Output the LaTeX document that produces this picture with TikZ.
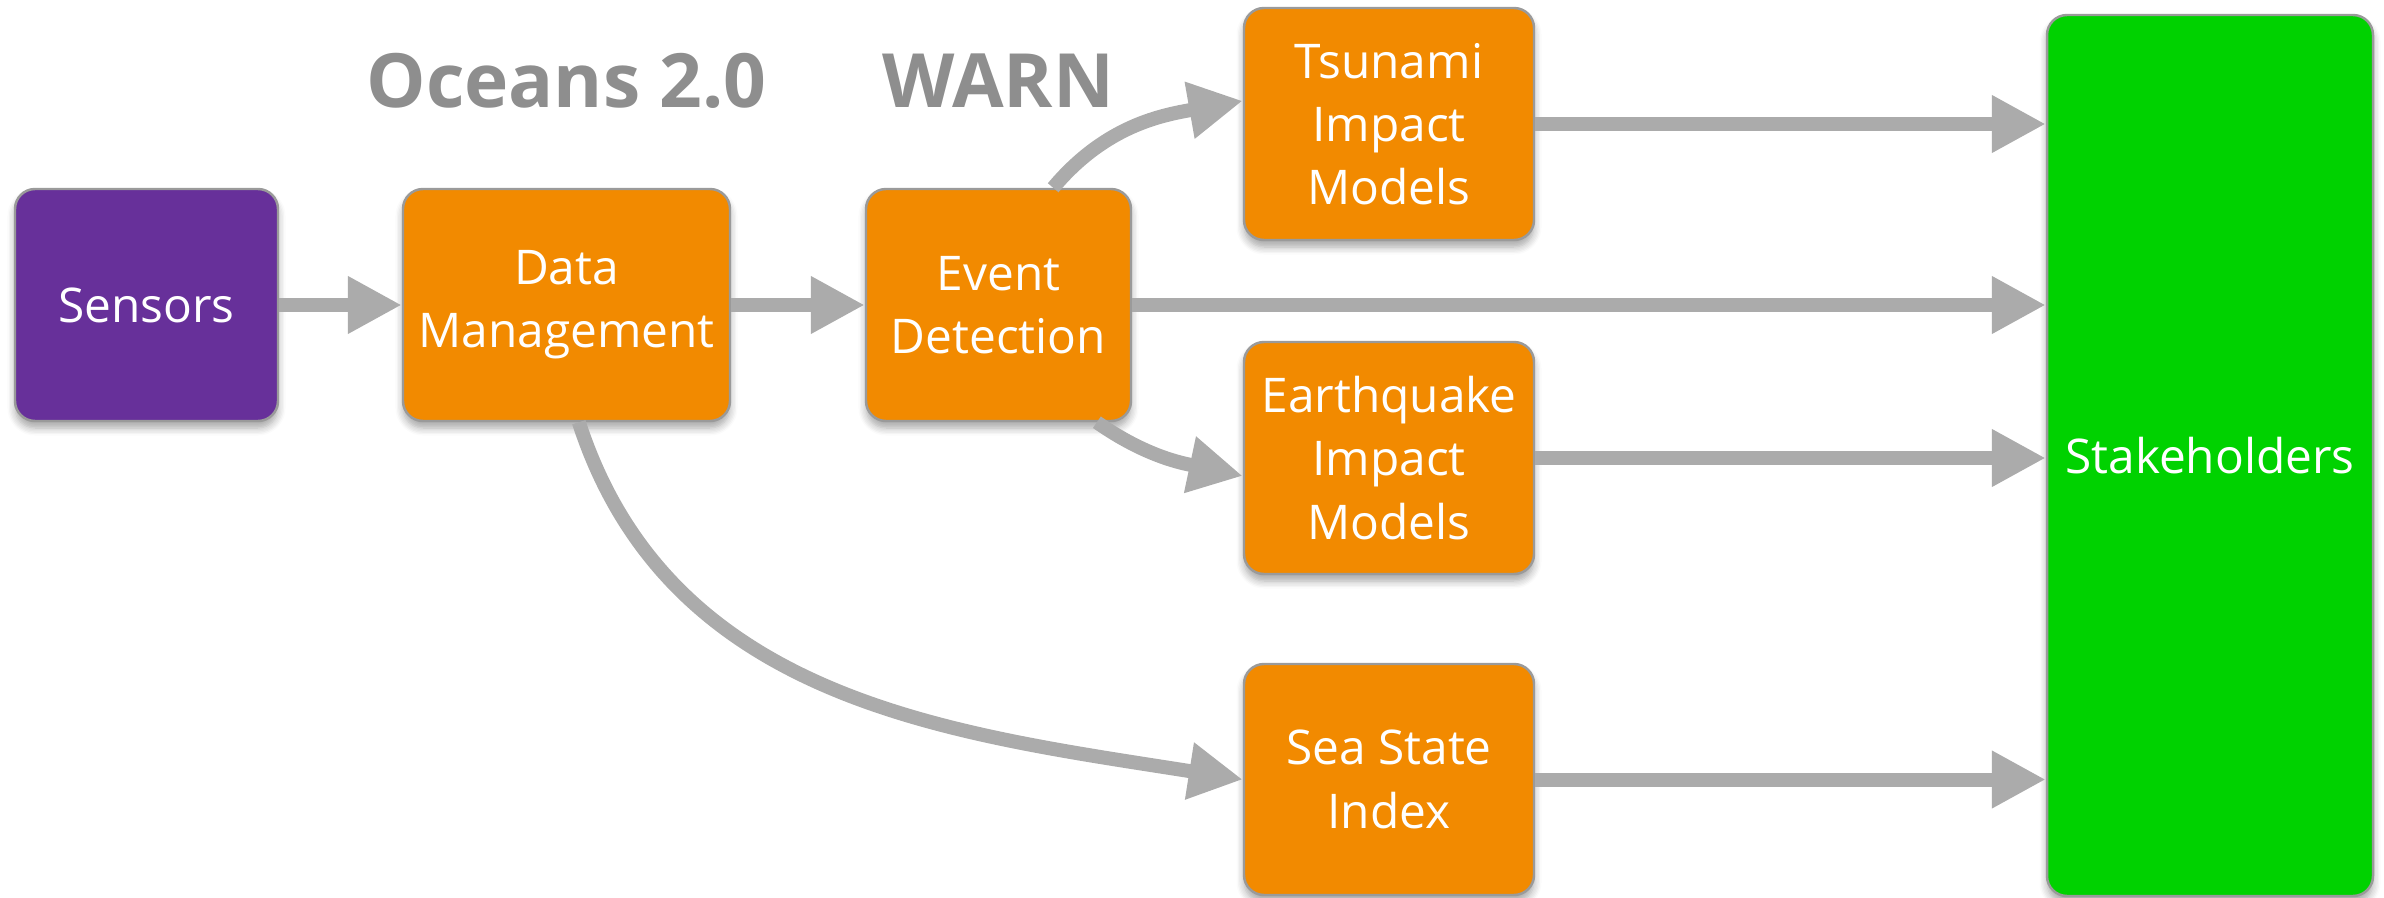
\documentclass[tikz,border=0pt]{standalone}
\usepackage{fontspec}
\setmainfont{Open Sans}
\usepackage{tikz}
\usetikzlibrary{arrows.meta}
\usetikzlibrary{positioning}
\usetikzlibrary{calc}
\usetikzlibrary{shadows,shadows.blur}
\usepackage{xcolor}
\definecolor{sensorpurple}{HTML}{67309A}
\definecolor{procorange}{HTML}{F28A00}
\definecolor{stakegreen}{HTML}{00D200}
\definecolor{flowgray}{HTML}{ABABAB}
\definecolor{edgegray}{HTML}{9A9A9A}
\definecolor{titlegray}{HTML}{8E8E8E}

\begin{document}
\begin{tikzpicture}[
    block/.style={shape=rectangle,
        rounded corners=2mm,
        draw=edgegray,
        line width=0.7pt,
        text=white,
        align=center,
        font=\fontsize{13.6}{18}\selectfont,
        blur shadow={shadow xshift=0pt,shadow yshift=-0.07cm,shadow opacity=35,shadow blur steps=6},
        minimum height = 2.32cm},
    flow/.style={-{Triangle[length=0.54cm,width=0.54cm]},line width=0.14cm,draw=flowgray},
    heading/.style={text=titlegray,font=\fontsize{21.3}{25}\selectfont\bfseries}]
      %\draw[help lines] (0,0) grid (24,-9); % Only for Development
      \useasboundingbox (0,0) rectangle (23.84,-8.98);

      \node[block,fill=sensorpurple,minimum width = 2.63cm] (sensors) at (1.465,-3.05) {Sensors};
      \node[block,fill=procorange,minimum width = 3.27cm] (data) at (5.665,-3.05) {Data\\Management};
      \node[block,fill=procorange,minimum width = 2.65cm] (event) at (9.985,-3.05) {Event\\Detection};

      \node[block,fill=procorange,minimum width = 2.9cm] (tsunami) at (13.89,-1.24) {Tsunami\\Impact\\Models};
      \node[block,fill=procorange,minimum width = 2.9cm] (quake) at (13.89,-4.58) {Earthquake\\Impact\\Models};
      \node[block,fill=procorange,minimum width = 2.9cm,minimum height = 2.31cm] (sea) at (13.89,-7.795) {Sea State\\Index};

      \node[block,fill=stakegreen,minimum width = 3.26cm,minimum height = 8.81cm] (stake) at (22.10,-4.555) {Stakeholders};

      \node[heading,above=0.8cm of data.north,anchor=base] (oceans) {Oceans 2.0};
      \node[heading,above=0.8cm of event.north,anchor=base] (warn) {WARN};

      % main line
      \draw[flow] (sensors) -- (data);
      \draw[flow] (data) -- (event);
      \draw[flow] (event.east) -- (event.east -| stake.west);

      % models
      \draw[flow] (event.65) to[out=50,in=190] (tsunami.171);
      \draw[flow] (event.-50) to[out=-35,in=168] (quake.187);
      \draw[flow] (data.-84) to[out=-72,in=171] (sea.west);

      % to stakeholders
      \draw[flow] (tsunami.east) -- (tsunami.east -| stake.west);
      \draw[flow] (quake.east) -- (quake.east -| stake.west);
      \draw[flow] (sea.east) -- (sea.east -| stake.west);

    \end{tikzpicture}
\end{document}
